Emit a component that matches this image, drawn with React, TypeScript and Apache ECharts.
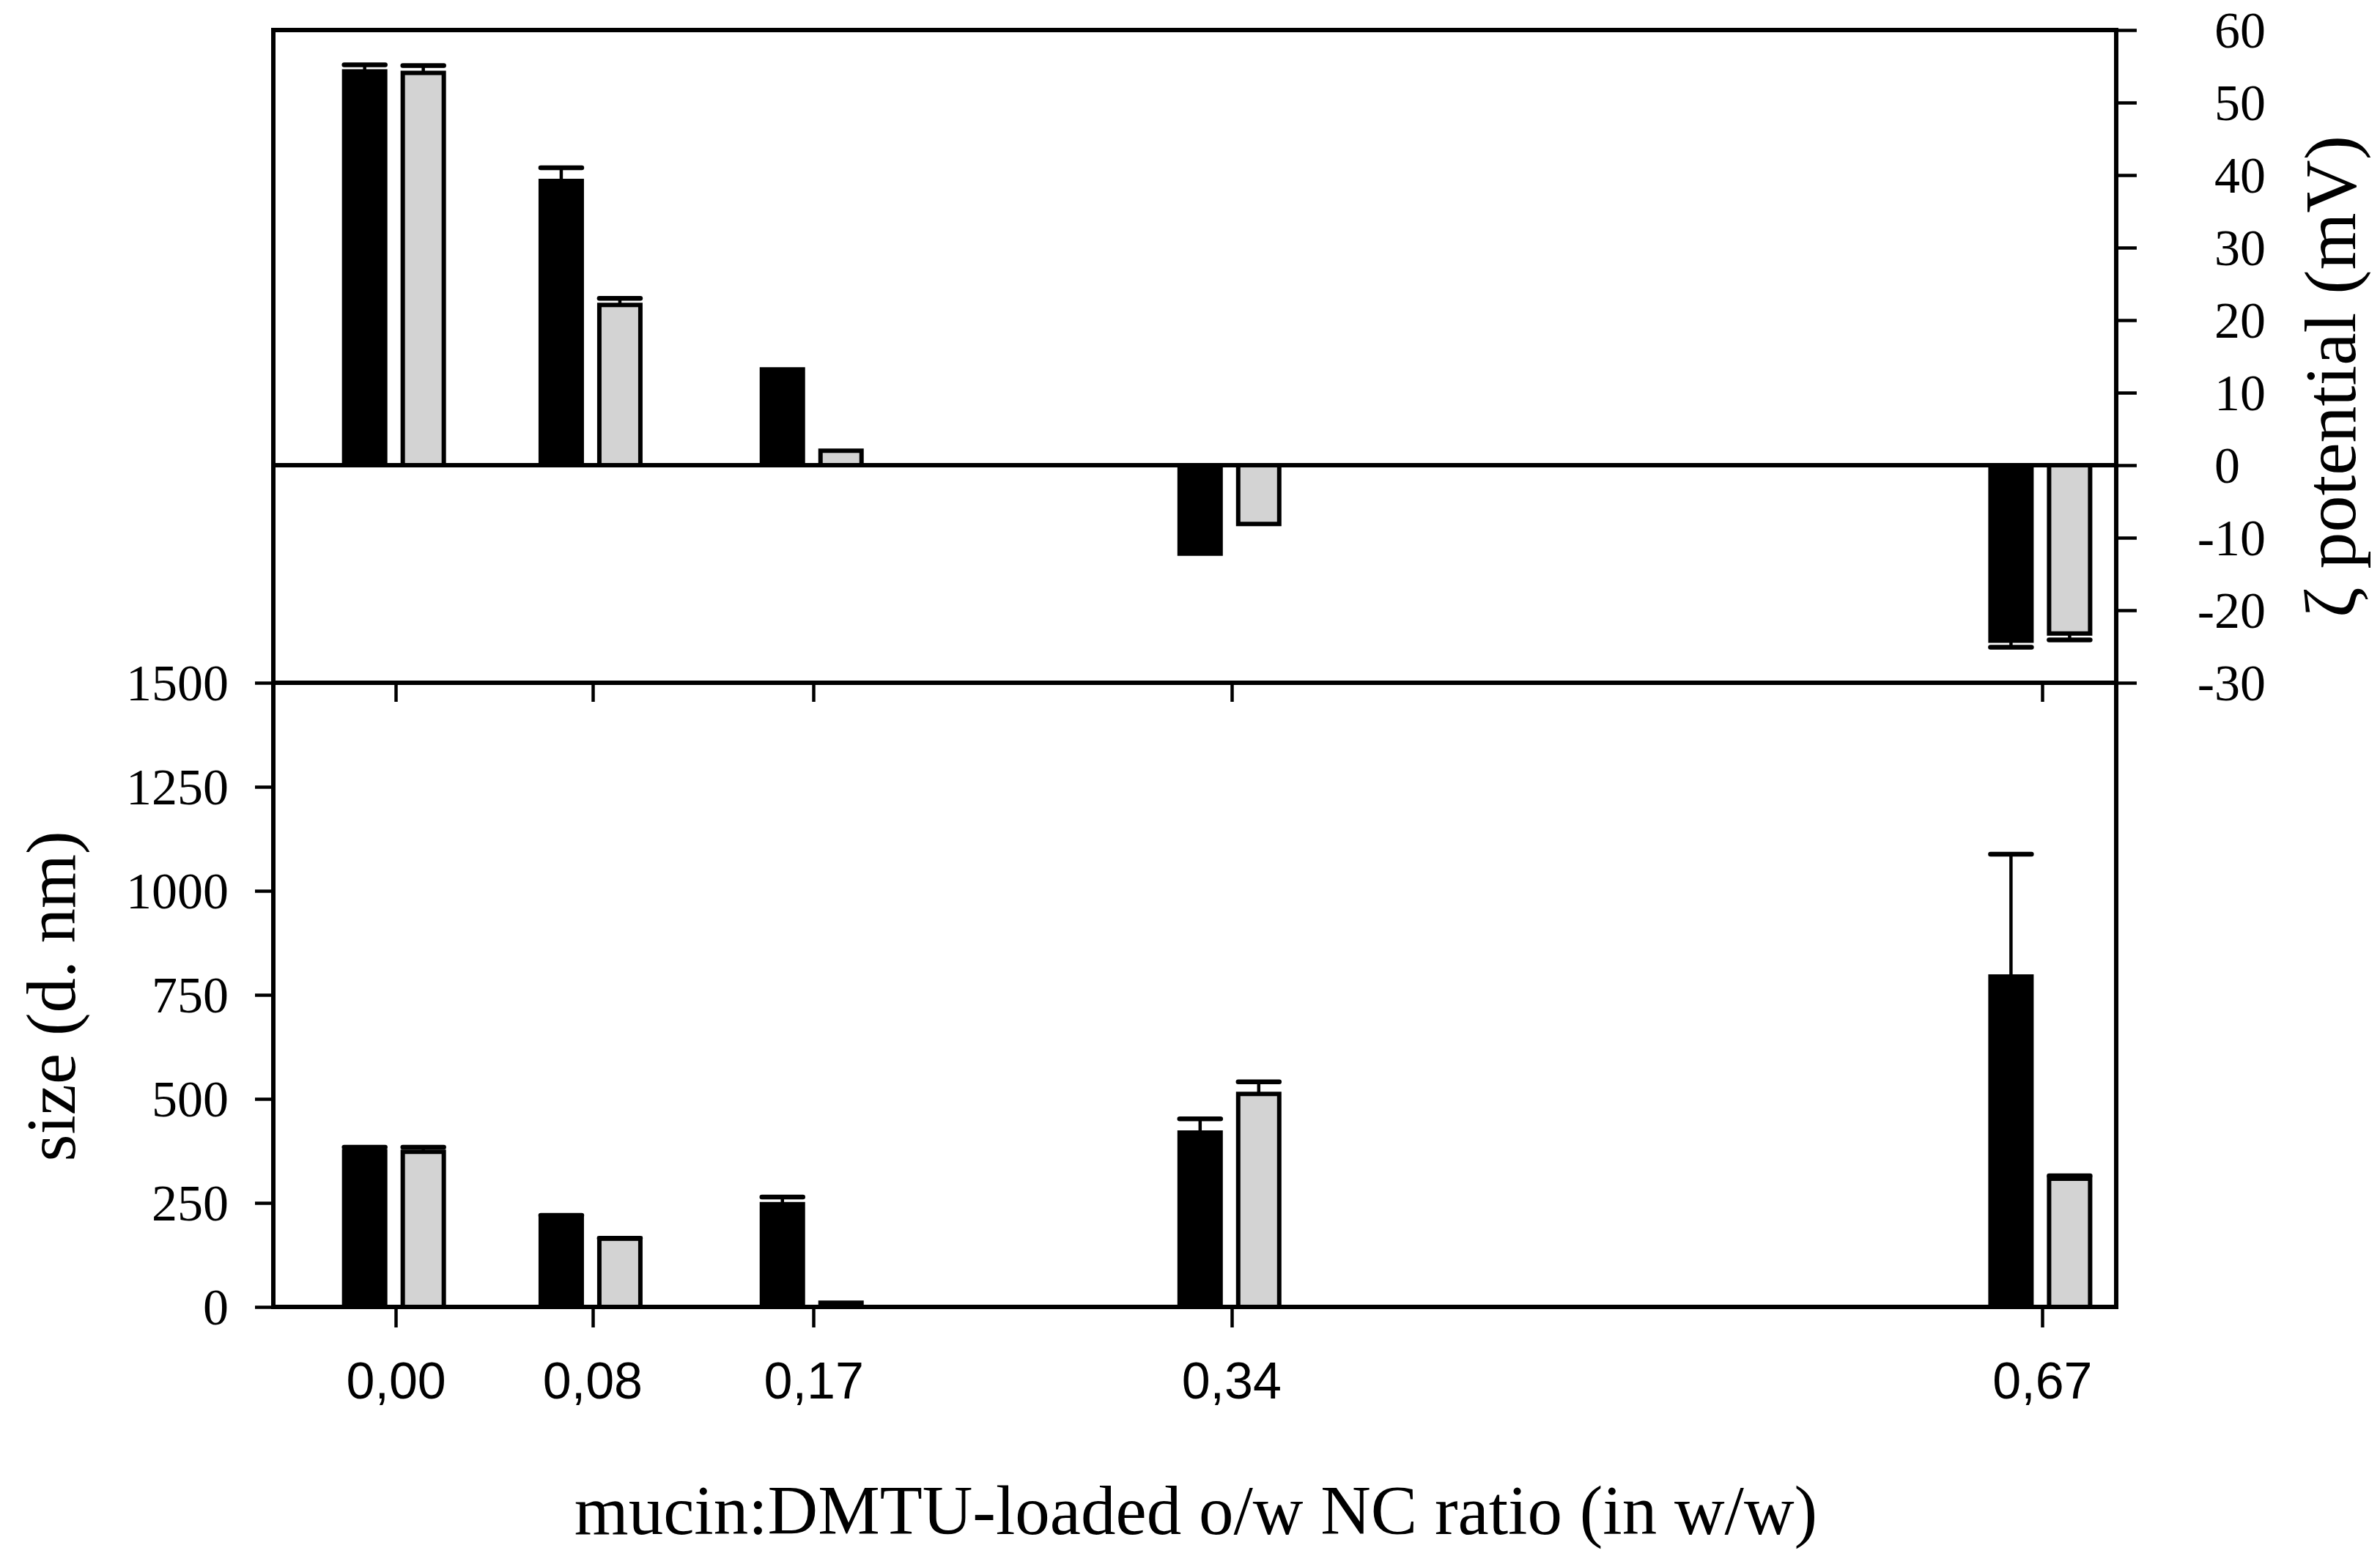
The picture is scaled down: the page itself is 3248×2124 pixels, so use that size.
import React, { useEffect, useRef } from "react";
import * as echarts from "echarts";

// ---- data ----
const ratios = [0, 0.08, 0.17, 0.34, 0.67];
const zetaBlack = [54.3, 39.2, 13.2, -12.2, -24.2];
const zetaBlackErr = [0.9, 1.8, 0, 0, 0.9];
const zetaGray = [54.1, 22.1, 2.0, -8.1, -23.2];
const zetaGrayErr = [1.0, 0.9, 0, 0, 0.9];
const sizeBlack = [374, 215, 247, 419, 794];
const sizeBlackErr = [10, 5, 17, 33, 294];
const sizeGray = [373, 164, 10, 512, 308];
const sizeGrayErr = [11, 1, 0, 29, 7];
const zetaTicks = [-30, -20, -10, 0, 10, 20, 30, 40, 50, 60];
const sizeTicks = [0, 250, 500, 750, 1000, 1250, 1500];

const SERIF = "'Liberation Serif', 'Times New Roman', serif";
const SANS = "'Liberation Sans', Arial, sans-serif";
const LW = 6;
const BAR_W = 56;
const BAR_LW = 6;
const CAP_W = 56;

function makeBarSeries(
  name: string,
  xi: number,
  yi: number,
  vals: number[],
  errs: number[],
  fill: string,
  offset: number
) {
  return {
    type: "custom",
    name,
    xAxisIndex: xi,
    yAxisIndex: yi,
    clip: false,
    z: 5,
    data: ratios.map((r, i) => [r, vals[i], errs[i]]),
    renderItem: (params: any, api: any) => {
      const x = api.value(0);
      const y = api.value(1);
      const e = api.value(2);
      const base = api.coord([x, 0]);
      const top = api.coord([x, y]);
      const cx = base[0] + offset;
      const children: any[] = [
        {
          type: "rect",
          shape: {
            x: cx - BAR_W / 2,
            y: Math.min(base[1], top[1]),
            width: BAR_W,
            height: Math.abs(top[1] - base[1]),
          },
          style: { fill, stroke: "#000", lineWidth: BAR_LW },
        },
      ];
      if (e > 0) {
        const tip = api.coord([x, y + (y >= 0 ? e : -e)]);
        children.push({
          type: "line",
          shape: { x1: cx, y1: top[1], x2: cx, y2: tip[1] },
          style: { stroke: "#000", lineWidth: 4.5 },
        });
        children.push({
          type: "line",
          shape: { x1: cx - CAP_W / 2, y1: tip[1], x2: cx + CAP_W / 2, y2: tip[1] },
          style: { stroke: "#000", lineWidth: 6.5, lineCap: "round" },
        });
      }
      return { type: "group", children };
    },
  };
}

export default function App() {
  const ref = useRef<HTMLDivElement>(null);

  useEffect(() => {
    if (!ref.current) return;
    const chart = echarts.init(ref.current, undefined, { renderer: "svg" });
    const gridBase = {
      left: 373,
      right: 3248 - 2888,
      show: true,
      borderColor: "#000",
      borderWidth: LW,
      backgroundColor: "transparent",
    };
    const tickLabelSerif = { fontFamily: SERIF, fontSize: 70, color: "#000" };
    const option: any = {
      animation: false,
      backgroundColor: "#fff",
      grid: [
        { ...gridBase, top: 41, height: 932 - 41 },
        { ...gridBase, top: 932, height: 1784 - 932 },
      ],
      xAxis: [
        {
          type: "value",
          gridIndex: 0,
          min: -0.05,
          max: 0.7,
          position: "bottom",
          axisLine: { show: true, onZero: false, lineStyle: { color: "#000", width: LW } },
          axisTick: {
            show: true,
            customValues: ratios,
            length: 26,
            lineStyle: { color: "#000", width: 4.5 },
          },
          axisLabel: { show: false },
          splitLine: { show: false },
        },
        {
          type: "value",
          gridIndex: 1,
          min: -0.05,
          max: 0.7,
          position: "bottom",
          axisLine: { show: true, onZero: false, lineStyle: { color: "#000", width: LW } },
          axisTick: {
            show: true,
            customValues: ratios,
            length: 28,
            lineStyle: { color: "#000", width: 4.5 },
          },
          axisLabel: {
            show: true,
            customValues: ratios,
            margin: 66,
            fontFamily: SANS,
            fontSize: 70,
            color: "#000",
            formatter: (v: number) => v.toFixed(2).replace(".", ","),
          },
          splitLine: { show: false },
        },
      ],
      yAxis: [
        {
          type: "value",
          gridIndex: 0,
          position: "right",
          min: -30,
          max: 60,
          interval: 10,
          axisLine: { show: true, onZero: false, lineStyle: { color: "#000", width: LW } },
          axisTick: {
            show: true,
            length: 28,
            customValues: zetaTicks,
            lineStyle: { color: "#000", width: 4.5 },
          },
          axisLabel: {
            ...tickLabelSerif,
            customValues: zetaTicks,
            align: "right",
            margin: 204,
            formatter: (v: number) => (v === 0 ? "{z|0}" : String(v)),
            rich: {
              z: { width: 70, align: "left", fontFamily: SERIF, fontSize: 70, color: "#000" },
            },
          },
          splitLine: { show: false },
        },
        {
          type: "value",
          gridIndex: 1,
          position: "left",
          min: 0,
          max: 1500,
          interval: 250,
          axisLine: { show: true, onZero: false, lineStyle: { color: "#000", width: LW } },
          axisTick: {
            show: true,
            length: 25,
            customValues: sizeTicks,
            lineStyle: { color: "#000", width: 4.5 },
          },
          axisLabel: {
            ...tickLabelSerif,
            customValues: sizeTicks,
            margin: 61,
            formatter: (v: number) => String(v),
          },
          splitLine: { show: false },
        },
      ],
      graphic: [
        {
          type: "text",
          x: 1632,
          y: 2062,
          style: {
            text: "mucin:DMTU-loaded o/w NC ratio (in w/w)",
            fontFamily: SERIF,
            fontSize: 95,
            fill: "#000",
            align: "center",
            verticalAlign: "middle",
          },
        },
        {
          type: "text",
          x: 70,
          y: 1360,
          rotation: Math.PI / 2,
          style: {
            text: "size (d. nm)",
            fontFamily: SERIF,
            fontSize: 95,
            fill: "#000",
            align: "center",
            verticalAlign: "middle",
          },
        },
        {
          type: "text",
          x: 3180,
          y: 514,
          rotation: Math.PI / 2,
          style: {
            text: "ζ potential (mV)",
            fontFamily: SERIF,
            fontSize: 100,
            fill: "#000",
            align: "center",
            verticalAlign: "middle",
          },
        },
      ],
      series: [
        {
          type: "line",
          xAxisIndex: 0,
          yAxisIndex: 0,
          data: [
            [-0.05, 0],
            [0.7, 0],
          ],
          symbol: "none",
          lineStyle: { color: "#000", width: LW },
          z: 6,
          silent: true,
        },
        makeBarSeries("zeta black", 0, 0, zetaBlack, zetaBlackErr, "#000", -43),
        makeBarSeries("zeta gray", 0, 0, zetaGray, zetaGrayErr, "#d3d3d3", 37),
        makeBarSeries("size black", 1, 1, sizeBlack, sizeBlackErr, "#000", -43),
        makeBarSeries("size gray", 1, 1, sizeGray, sizeGrayErr, "#d3d3d3", 37),
      ],
    };
    chart.setOption(option);
    return () => chart.dispose();
  }, []);

  return (
    <div
      ref={ref}
      style={{ position: "fixed", left: 0, top: 0, width: 3248, height: 2124, background: "#fff" }}
    />
  );
}
